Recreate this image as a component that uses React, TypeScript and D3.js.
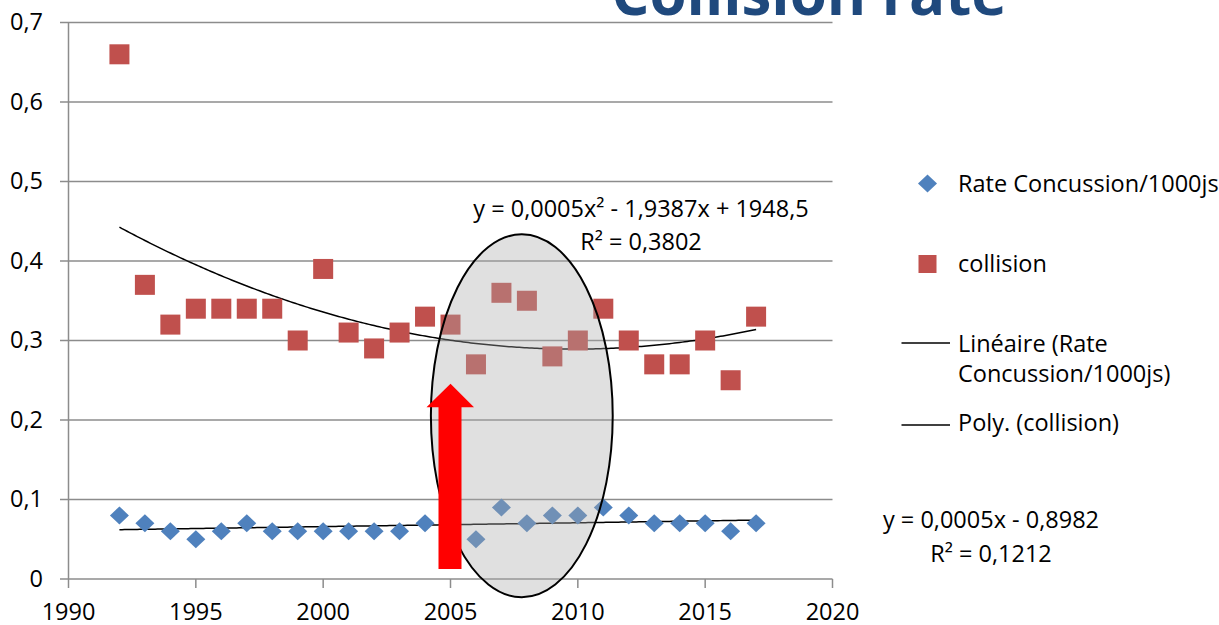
import React from "react";
import * as d3 from "d3";

const years = [1992, 1993, 1994, 1995, 1996, 1997, 1998, 1999, 2000, 2001, 2002, 2003, 2004, 2005, 2006, 2007, 2008, 2009, 2010, 2011, 2012, 2013, 2014, 2015, 2016, 2017];
const concussion = [0.08, 0.07, 0.06, 0.05, 0.06, 0.07, 0.06, 0.06, 0.06, 0.06, 0.06, 0.06, 0.07, 0.07, 0.05, 0.09, 0.07, 0.08, 0.08, 0.09, 0.08, 0.07, 0.07, 0.07, 0.06, 0.07];
const collision = [0.66, 0.37, 0.32, 0.34, 0.34, 0.34, 0.34, 0.30, 0.39, 0.31, 0.29, 0.31, 0.33, 0.32, 0.27, 0.36, 0.35, 0.28, 0.30, 0.34, 0.30, 0.27, 0.27, 0.30, 0.25, 0.33];
const xTicks = [1990, 1995, 2000, 2005, 2010, 2015, 2020];
const yTicks = [0, 0.1, 0.2, 0.3, 0.4, 0.5, 0.6, 0.7];
const title = "Collision rate";
const seriesNames = ["Rate Concussion/1000js", "collision"];
const trendNames = [["Linéaire (Rate", "Concussion/1000js)"], ["Poly. (collision)"]];
const polyEq = "y = 0,0005x² - 1,9387x + 1948,5";
const polyR2 = "R² = 0,3802";
const linEq = "y = 0,0005x - 0,8982";
const linR2 = "R² = 0,1212";

const FONT = "'Open Sans', sans-serif";
const FS = 23.5;
const BLUE = "#4F81BD";
const RED = "#C0504D";
const GRID = "#8c8c8c";

function linearFit(xs: number[], ys: number[]) {
  const n = xs.length;
  const mx = d3.mean(xs)!;
  const my = d3.mean(ys)!;
  let sxy = 0, sxx = 0;
  for (let i = 0; i < n; i++) {
    sxy += (xs[i] - mx) * (ys[i] - my);
    sxx += (xs[i] - mx) ** 2;
  }
  const b = sxy / sxx;
  return (x: number) => my + b * (x - mx);
}

function quadFit(xs: number[], ys: number[]) {
  const mx = d3.mean(xs)!;
  const u = xs.map((x) => x - mx);
  const S = (p: number) => d3.sum(u, (v) => v ** p);
  const T = (p: number) => d3.sum(u, (v, i) => v ** p * ys[i]);
  const A = [
    [S(0), S(1), S(2), T(0)],
    [S(1), S(2), S(3), T(1)],
    [S(2), S(3), S(4), T(2)],
  ];
  for (let c = 0; c < 3; c++) {
    for (let r = c + 1; r < 3; r++) {
      const f = A[r][c] / A[c][c];
      for (let k = c; k < 4; k++) A[r][k] -= f * A[c][k];
    }
  }
  const co = [0, 0, 0];
  for (let r = 2; r >= 0; r--) {
    let s = A[r][3];
    for (let k = r + 1; k < 3; k++) s -= A[r][k] * co[k];
    co[r] = s / A[r][r];
  }
  return (x: number) => co[0] + co[1] * (x - mx) + co[2] * (x - mx) ** 2;
}

export default function App() {
  const W = 1219, H = 625;
  const x = d3.scaleLinear().domain([1990, 2020]).range([68.5, 832.5]);
  const y = d3.scaleLinear().domain([0, 0.7]).range([579, 22.5]);

  const lin = linearFit(years, concussion);
  const quad = quadFit(years, collision);
  const xs = d3.range(years[0], years[years.length - 1] + 0.001, 0.1);
  const linPath = d3.line<number>().x((d) => x(d)).y((d) => y(lin(d)))(xs)!;
  const quadPath = d3.line<number>().x((d) => x(d)).y((d) => y(quad(d)))(xs)!;

  const fmt = (v: number) => (v === 0 ? "0" : d3.format(".1f")(v).replace(".", ","));

  // annotation (in data units)
  const ell = { cx: 2007.8, cy: 0.2053, rx: 3.57, ry: 0.2283 };
  const ecx = x(ell.cx), ecy = y(ell.cy);
  const erx = x(ell.cx + ell.rx) - ecx, ery = ecy - y(ell.cy + ell.ry);

  const arrowX = x(2005);
  const arrowBottom = y(0.0125), arrowHeadBase = y(0.216), arrowTip = y(0.2455);
  const arrowPath = `M${arrowX - 12},${arrowBottom} L${arrowX - 12},${arrowHeadBase} L${arrowX - 24},${arrowHeadBase} L${arrowX},${arrowTip} L${arrowX + 23.5},${arrowHeadBase} L${arrowX + 11},${arrowHeadBase} L${arrowX + 11},${arrowBottom} Z`;

  const diamond = (cx: number, cy: number) => `M${cx},${cy - 9} L${cx + 9.5},${cy} L${cx},${cy + 9} L${cx - 9.5},${cy} Z`;

  const plotLeft = x(1990), plotRight = x(2020), plotBottom = y(0);

  return (
    <svg width={W} height={H} style={{ position: "absolute", left: 0, top: 0, background: "#fff" }} fontFamily={FONT}>
      <rect width={W} height={H} fill="#fff" />
      {/* gridlines */}
      {yTicks.map((t) => (
        <line key={"g" + t} x1={plotLeft - 8.5} x2={plotRight} y1={y(t)} y2={y(t)} stroke={GRID} strokeWidth={1.5} />
      ))}
      {/* y axis */}
      <line x1={plotLeft} x2={plotLeft} y1={y(0.7)} y2={plotBottom} stroke={GRID} strokeWidth={1.5} />
      {xTicks.map((t) => (
        <line key={"xt" + t} x1={x(t)} x2={x(t)} y1={plotBottom} y2={plotBottom + 9} stroke={GRID} strokeWidth={1.5} />
      ))}
      {yTicks.map((t) => (
        <text key={"yl" + t} x={43} y={y(t) + 7.7} textAnchor="end" fontSize={FS} fill="#000">{fmt(t)}</text>
      ))}
      {xTicks.map((t) => (
        <text key={"xl" + t} x={x(t)} y={620} textAnchor="middle" fontSize={FS} fill="#000">{t}</text>
      ))}

      {/* trend lines */}
      <path d={quadPath} fill="none" stroke="#000" strokeWidth={1.5} />
      <path d={linPath} fill="none" stroke="#000" strokeWidth={1.5} />

      {/* series */}
      {years.map((yr, i) => (
        <path key={"d" + yr} d={diamond(x(yr), y(concussion[i]))} fill={BLUE} />
      ))}
      {years.map((yr, i) => (
        <rect key={"s" + yr} x={x(yr) - 10} y={y(collision[i]) - 10} width={20} height={20} fill={RED} />
      ))}

      {/* ellipse annotation */}
      <ellipse cx={ecx} cy={ecy} rx={erx} ry={ery} fill="#aaaaaa" fillOpacity={0.37} stroke="#000" strokeWidth={2} />
      <path d={arrowPath} fill="#FF0000" />

      {/* equation labels */}
      <text x={641} y={217} textAnchor="middle" fontSize={FS} fill="#000">{polyEq}</text>
      <text x={641} y={250} textAnchor="middle" fontSize={FS} fill="#000">{polyR2}</text>
      <text x={991} y={528} textAnchor="middle" fontSize={FS} fill="#000">{linEq}</text>
      <text x={991} y={562} textAnchor="middle" fontSize={FS} fill="#000">{linR2}</text>

      {/* legend */}
      <path d={diamond(927.5, 183.5)} fill={BLUE} />
      <text x={958} y={192} fontSize={FS} fill="#000">{seriesNames[0]}</text>
      <rect x={918.5} y={255} width={18} height={18} fill={RED} />
      <text x={958} y={272} fontSize={FS} fill="#000">{seriesNames[1]}</text>
      <line x1={901.5} x2={950} y1={343} y2={343} stroke="#000" strokeWidth={1.5} />
      <text x={958} y={352} fontSize={FS} fill="#000">{trendNames[0][0]}</text>
      <text x={958} y={382} fontSize={FS} fill="#000">{trendNames[0][1]}</text>
      <line x1={901.5} x2={950} y1={425} y2={425} stroke="#000" strokeWidth={1.5} />
      <text x={958} y={431} fontSize={FS} fill="#000">{trendNames[1][0]}</text>

      {/* title */}
      <text x={809} y={15} textAnchor="middle" fontSize={60} fontWeight="bold" fill="#1F497D">{title}</text>
    </svg>
  );
}
